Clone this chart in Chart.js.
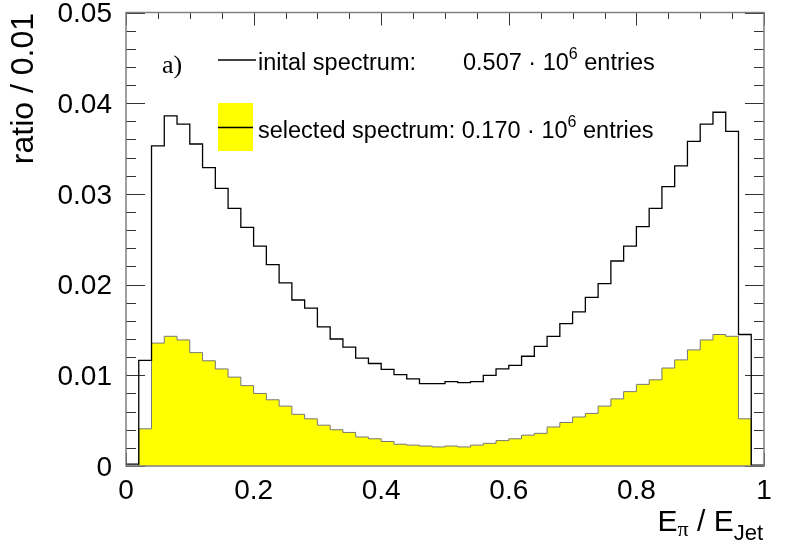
<!DOCTYPE html>
<html lang="en">
<head>
<meta charset="UTF-8">
<title>E_pi / E_Jet spectrum</title>
<style>
  body { margin: 0; padding: 0; background: #fff; }
  .wrap { width: 789px; height: 543px; position: relative; }
</style>
<script src="https://cdn.jsdelivr.net/npm/chart.js"></script>
</head>
<body>
<div class="wrap"><canvas id="spectrum"></canvas></div>
<script>
// 50 bins of width 0.02 on E_pi / E_Jet
const binWidth = 0.02;
const initialSpectrum = [
  0.0002, 0.01165, 0.0353, 0.0386, 0.0377, 0.0355, 0.0329, 0.0306, 0.0284, 0.0263,
  0.02425, 0.0222, 0.0202, 0.0183, 0.0174, 0.01535, 0.0140, 0.0131, 0.0119, 0.0113,
  0.01066, 0.01007, 0.0096, 0.00908, 0.00908, 0.0093, 0.0092, 0.0093, 0.0100, 0.0107,
  0.0111, 0.0121, 0.0132, 0.0143, 0.0157, 0.0170, 0.0186, 0.0201, 0.0226, 0.02425,
  0.0264, 0.0284, 0.0308, 0.0331, 0.0358, 0.0377, 0.0390, 0.0369, 0.0145, 0.0001
];
const selectedSpectrum = [
  0.0, 0.0041, 0.01355, 0.0143, 0.0139, 0.0125, 0.0116, 0.0107, 0.0098, 0.00886,
  0.0080, 0.0073, 0.0066, 0.0057, 0.0052, 0.0045, 0.0040, 0.0037, 0.0032, 0.0030,
  0.0027, 0.0024, 0.0023, 0.0022, 0.0021, 0.0022, 0.0021, 0.0023, 0.0025, 0.0028,
  0.0030, 0.0034, 0.0036, 0.0043, 0.0048, 0.0054, 0.0058, 0.0066, 0.0074, 0.0082,
  0.0090, 0.0095, 0.0108, 0.0117, 0.0128, 0.0139, 0.0145, 0.0143, 0.0052, 0.0
];
const xTickValues = [0, 0.2, 0.4, 0.6, 0.8, 1];
const xTickLabels = ['0', '0.2', '0.4', '0.6', '0.8', '1'];
const yTickValues = [0, 0.01, 0.02, 0.03, 0.04, 0.05];
const yTickLabels = ['0', '0.01', '0.02', '0.03', '0.04', '0.05'];

// step outline: left edge of each bin, closed down to zero at both ends
function histPoints(values) {
  const pts = [{ x: 0, y: 0 }];
  values.forEach((v, i) => pts.push({ x: i * binWidth, y: v }));
  const last = values.length * binWidth;
  pts.push({ x: last, y: values[values.length - 1] });
  pts.push({ x: last, y: 0 });
  return pts;
}

const SANS = '"Liberation Sans", Arial, Helvetica, sans-serif';
const SERIF = '"Liberation Serif", "Times New Roman", serif';

// frame + inward ticks like ROOT
const ticksPlugin = {
  id: 'rootTicks',
  beforeDatasetsDraw(chart) {
    const { ctx, chartArea: a, scales } = chart;
    ctx.save();
    ctx.strokeStyle = '#333';
    ctx.lineWidth = 1;
    for (let k = 0; k <= 25; k++) {
      const v = k * 0.002;
      const y = Math.round(scales.y.getPixelForValue(v)) + 0.5;
      const len = (k % 5 === 0) ? 19 : 10;
      ctx.beginPath();
      ctx.moveTo(a.left, y); ctx.lineTo(a.left + len, y);
      ctx.moveTo(a.right, y); ctx.lineTo(a.right - len, y);
      ctx.stroke();
    }
    for (let k = 0; k <= 20; k++) {
      const v = k * 0.05;
      const x = Math.round(scales.x.getPixelForValue(v)) + 0.5;
      const len = (k % 4 === 0) ? 13 : 6.5;
      ctx.beginPath();
      ctx.moveTo(x, a.bottom); ctx.lineTo(x, a.bottom - len);
      ctx.moveTo(x, a.top); ctx.lineTo(x, a.top + len);
      ctx.stroke();
    }
    ctx.restore();
  },
  afterDatasetsDraw(chart) {
    const { ctx, chartArea: a } = chart;
    ctx.save();
    ctx.strokeStyle = '#808080';
    ctx.lineWidth = 1.5;
    ctx.strokeRect(a.left, a.top, a.right - a.left, a.bottom - a.top);
    ctx.restore();
  }
};

// draws a run of [text, size, dy] pieces from x along baseline y
function drawRun(ctx, parts, x, y) {
  parts.forEach(p => {
    ctx.font = p[1] + 'px ' + (p[3] || SANS);
    ctx.fillText(p[0], x, y + (p[2] || 0));
    x += ctx.measureText(p[0]).width;
  });
  return x;
}
function runWidth(ctx, parts) {
  let w = 0;
  parts.forEach(p => { ctx.font = p[1] + 'px ' + (p[3] || SANS); w += ctx.measureText(p[0]).width; });
  return w;
}

const textPlugin = {
  id: 'labels',
  afterDraw(chart) {
    const { ctx, chartArea: a } = chart;
    ctx.save();
    ctx.fillStyle = '#000';
    ctx.textBaseline = 'alphabetic';
    ctx.textAlign = 'left';

    // legend
    ctx.font = '26px ' + SERIF;
    ctx.fillText('a)', 162, 73);
    ctx.strokeStyle = '#000';
    ctx.lineWidth = 1.3;
    ctx.beginPath(); ctx.moveTo(218, 60); ctx.lineTo(256, 60); ctx.stroke();
    drawRun(ctx, [['inital spectrum:', 23.5]], 258, 69.5);
    drawRun(ctx, [['0.507 \u00b7 10', 23.5], ['6', 16, -11], [' entries', 23.5]], 463, 69.5);

    ctx.fillStyle = '#ffff00';
    ctx.fillRect(218, 103, 35, 48);
    ctx.beginPath(); ctx.moveTo(218, 127.5); ctx.lineTo(253, 127.5); ctx.stroke();
    ctx.fillStyle = '#000';
    drawRun(ctx, [['selected spectrum: 0.170 \u00b7 10', 23.5], ['6', 16, -11], [' entries', 23.5]], 258, 137.5);

    // x title, right aligned to the frame
    const xt = [['E', 30], ['\u03c0', 22, 5, SERIF], [' / E', 30], ['Jet', 22, 9]];
    drawRun(ctx, xt, a.right - 1 - runWidth(ctx, xt), 531);

    // y title, rotated, top aligned
    ctx.translate(33, 13);
    ctx.rotate(-Math.PI / 2);
    ctx.textAlign = 'right';
    ctx.font = '32px ' + SANS;
    ctx.fillText('ratio / 0.01', 0, 0);
    ctx.restore();
  }
};

function fixBox(size) {
  return function (scale) {
    if (scale.isHorizontal()) scale.height = size; else scale.width = size;
    scale.paddingLeft = 0; scale.paddingRight = 0;
    scale.paddingTop = 0; scale.paddingBottom = 0;
  };
}

new Chart(document.getElementById('spectrum'), {
  type: 'line',
  data: {
    datasets: [
      {
        label: 'selected spectrum',
        data: histPoints(selectedSpectrum),
        stepped: 'before',
        fill: 'origin',
        backgroundColor: '#ffff00',
        borderColor: '#777',
        borderWidth: 1,
        pointRadius: 0,
        order: 2
      },
      {
        label: 'inital spectrum',
        data: histPoints(initialSpectrum),
        stepped: 'before',
        fill: false,
        borderColor: '#000',
        borderWidth: 1.3,
        pointRadius: 0,
        order: 1
      }
    ]
  },
  options: {
    responsive: true,
    maintainAspectRatio: false,
    animation: false,
    events: [],
    layout: { padding: { top: 12.5, right: 25, left: 0, bottom: 0 } },
    plugins: { legend: { display: false }, tooltip: { enabled: false } },
    scales: {
      x: {
        type: 'linear',
        min: 0,
        max: 1,
        afterFit: fixBox(77),
        afterBuildTicks(scale) { scale.ticks = xTickValues.map(v => ({ value: v })); },
        grid: { display: false, drawTicks: false },
        border: { display: false },
        ticks: {
          padding: 8,
          color: '#000',
          font: { family: SANS, size: 28 },
          maxRotation: 0,
          autoSkip: false,
          callback: (v) => xTickLabels[xTickValues.indexOf(v)]
        }
      },
      y: {
        min: 0,
        max: 0.05,
        afterFit: fixBox(126),
        afterBuildTicks(scale) { scale.ticks = yTickValues.map(v => ({ value: v })); },
        grid: { display: false, drawTicks: false },
        border: { display: false },
        ticks: {
          padding: 14,
          labelOffset: 2,
          color: '#000',
          font: { family: SANS, size: 28 },
          callback: (v) => yTickLabels[yTickValues.indexOf(v)]
        }
      }
    }
  },
  plugins: [ticksPlugin, textPlugin]
});
</script>
</body>
</html>
